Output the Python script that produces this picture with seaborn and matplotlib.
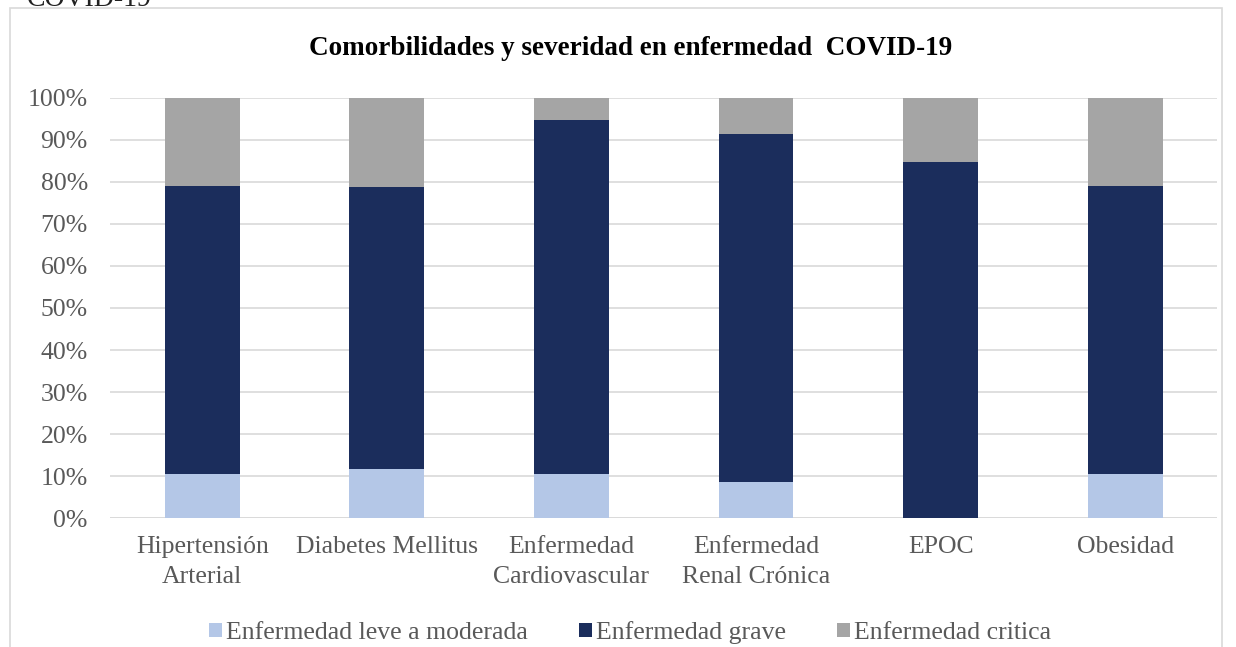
import numpy as np
import pandas as pd
import matplotlib
matplotlib.use("Agg")
import matplotlib.pyplot as plt
from matplotlib.patches import Rectangle, Patch
from matplotlib.ticker import PercentFormatter
import seaborn as sns

# Datos (porcentaje de pacientes por severidad)
categorias = ["Hipertensión\nArterial", "Diabetes Mellitus", "Enfermedad\nCardiovascular",
              "Enfermedad\nRenal Crónica", "EPOC", "Obesidad"]
leve = [10.5, 11.8, 10.5, 8.7, 0.0, 10.5]
grave = [68.4, 67.0, 84.2, 82.6, 84.6, 68.4]
critica = [21.1, 21.2, 5.3, 8.7, 15.4, 21.1]

series = ["Enfermedad leve a moderada", "Enfermedad grave", "Enfermedad critica"]
colores = ["#B4C7E7", "#1B2D5C", "#A5A5A5"]

df = pd.DataFrame({"cat": categorias, "leve": leve, "grave": grave, "critica": critica})
df["tope_grave"] = df["leve"] + df["grave"]
df["total"] = df["tope_grave"] + df["critica"]

sns.set_style("white")
plt.rcParams["font.family"] = ["Liberation Serif", "DejaVu Serif"]

fig = plt.figure(figsize=(12.36, 6.47), dpi=100)
ax = fig.add_axes([0.089, 0.199, 0.896, 0.650])

# barras apiladas: dibujar acumulados de arriba hacia abajo
for col, color in zip(["total", "tope_grave", "leve"], [colores[2], colores[1], colores[0]]):
    sns.barplot(data=df, x="cat", y=col, color=color, width=0.405, ax=ax,
                saturation=1, errorbar=None, linewidth=0, zorder=3)

ax.set_ylim(0, 100)
ax.set_xlim(-0.5, 5.5)
ax.set_yticks(np.arange(0, 101, 10))
ax.yaxis.set_major_formatter(PercentFormatter(decimals=0))
ax.grid(axis="y", color="#D9D9D9", linewidth=1.2, zorder=0)
ax.set_axisbelow(True)
for s in ax.spines.values():
    s.set_visible(False)
ax.axhline(0, color="#D9D9D9", linewidth=1.2, zorder=1)
ax.set_xlabel("")
ax.set_ylabel("")
ax.tick_params(axis="both", length=0, labelsize=18.5, labelcolor="#595959")
ax.tick_params(axis="y", pad=16)
ax.tick_params(axis="x", pad=13)
for lbl in ax.get_xticklabels():
    lbl.set_linespacing(1.45)

# título
fig.text(0.51, 0.925, "Comorbilidades y severidad en enfermedad  COVID-19",
         ha="center", va="center", fontsize=19.5, fontweight="bold", color="black")

# leyenda
handles = [Patch(facecolor=c, edgecolor="none") for c in colores]
fig.legend(handles, series, loc="center", bbox_to_anchor=(0.51, 0.022), ncol=3,
           frameon=False, fontsize=18.5, handlelength=0.5, handleheight=0.5,
           handletextpad=0.15, columnspacing=2.0, labelcolor="#595959")

# marco del gráfico y texto cortado de la página
fig.patches.append(Rectangle((10 / 1236, -0.05), 1212 / 1236, 1 - 8 / 647 + 0.05,
                             transform=fig.transFigure, fill=False,
                             edgecolor="#D9D9D9", linewidth=1.2))
fig.text(0.022, 1.0, "COVID-19", ha="left", va="center", fontsize=20, color="#222222")

fig.savefig("out.png", dpi=100)
